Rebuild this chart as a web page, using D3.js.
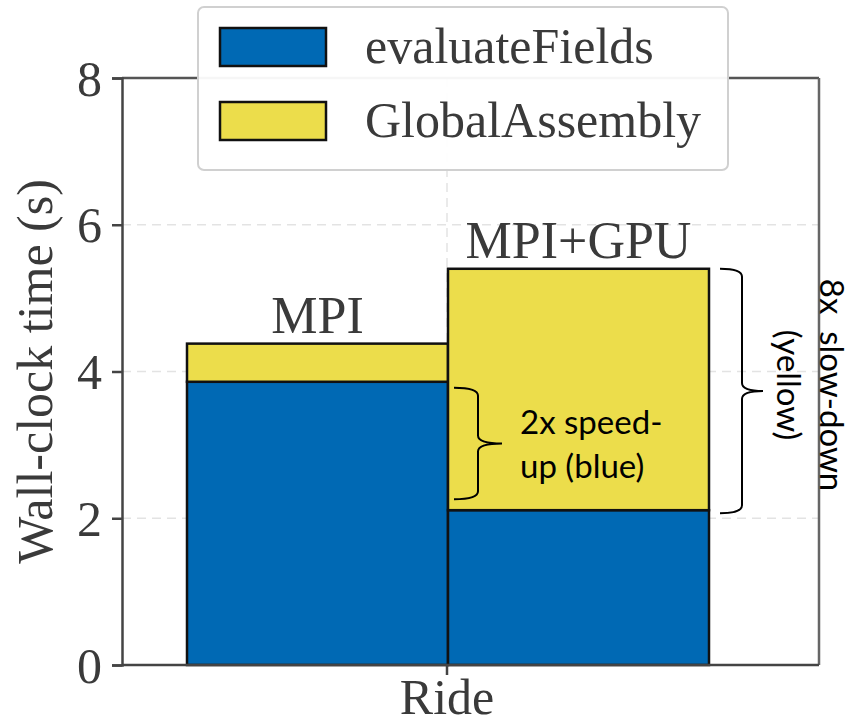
<!DOCTYPE html>
<html lang="en">
<head>
    <meta charset="UTF-8" />
    <title>Ride wall-clock time</title>
    <script src="https://d3js.org/d3.v7.min.js"></script>
    <style>
        body { margin: 0; background: #fff; }
        .serif { font-family: "Liberation Serif", serif; }
        .sans { font-family: Lato, "Open Sans", sans-serif; }
    </style>
</head>
<body>
    <script>
        var w = 854;
        var h = 725;

        // data
        var configs = ["MPI", "MPI+GPU"];
        var evaluateFields = [3.86, 2.11];
        var globalAssembly = [0.52, 3.29];
        var seriesNames = ["evaluateFields", "GlobalAssembly"];
        var seriesColors = ["#0069b4", "#ecdd4b"];
        var yTicks = [0, 2, 4, 6, 8];
        var groupLabel = "Ride";

        var frame = { left: 122, right: 819, top: 78, bottom: 665 };
        var textColor = "#3a3a3a";

        var svg = d3.select("body")
            .append("svg")
            .attr("width", w)
            .attr("height", h);

        var yScale = d3.scaleLinear()
            .domain([0, 8])
            .range([frame.bottom, frame.top]);

        var xScale = d3.scaleBand()
            .domain(configs)
            .range([187, 709])
            .padding(0);

        var groupX = 447;

        // grid lines
        svg.append("g")
            .selectAll("line")
            .data(yTicks.filter(function(d) { return d > 0 && d < 8; }))
            .enter()
            .append("line")
            .attr("x1", frame.left)
            .attr("x2", frame.right)
            .attr("y1", function(d) { return yScale(d); })
            .attr("y2", function(d) { return yScale(d); })
            .attr("stroke", "#e3e3e3")
            .attr("stroke-width", 1.5)
            .attr("stroke-dasharray", "9,6");

        svg.append("line")
            .attr("x1", groupX).attr("x2", groupX)
            .attr("y1", frame.top).attr("y2", frame.bottom)
            .attr("stroke", "#e3e3e3")
            .attr("stroke-width", 1.5)
            .attr("stroke-dasharray", "9,6");

        // stacked bars
        var stackData = configs.map(function(c, i) {
            return { config: c, evaluateFields: evaluateFields[i], GlobalAssembly: globalAssembly[i] };
        });
        var stack = d3.stack().keys(seriesNames)(stackData);

        svg.append("g")
            .selectAll("g")
            .data(stack)
            .enter()
            .append("g")
            .attr("fill", function(d, i) { return seriesColors[i]; })
            .selectAll("rect")
            .data(function(d) { return d; })
            .enter()
            .append("rect")
            .attr("x", function(d) { return xScale(d.data.config); })
            .attr("y", function(d) { return yScale(d[1]); })
            .attr("width", xScale.bandwidth())
            .attr("height", function(d) { return yScale(d[0]) - yScale(d[1]); })
            .attr("stroke", "#111")
            .attr("stroke-width", 2.5);

        // bar labels
        svg.append("g")
            .selectAll("text")
            .data(stackData)
            .enter()
            .append("text")
            .attr("class", "serif")
            .attr("x", function(d) { return xScale(d.config) + xScale.bandwidth() / 2; })
            .attr("y", function(d) { return yScale(d.evaluateFields + d.GlobalAssembly) - 11; })
            .attr("text-anchor", "middle")
            .attr("font-size", 52)
            .attr("fill", textColor)
            .text(function(d) { return d.config; });

        // frame
        svg.append("line")
            .attr("x1", frame.left).attr("x2", frame.right)
            .attr("y1", frame.top).attr("y2", frame.top)
            .attr("stroke", "#555").attr("stroke-width", 2.5);
        svg.append("line")
            .attr("x1", frame.right).attr("x2", frame.right)
            .attr("y1", frame.top).attr("y2", frame.bottom)
            .attr("stroke", "#666").attr("stroke-width", 2.5);

        // y axis
        var yAxis = d3.axisLeft(yScale)
            .tickValues(yTicks)
            .tickSize(10)
            .tickPadding(10)
            .tickFormat(d3.format("d"));

        var gy = svg.append("g")
            .attr("transform", "translate(" + frame.left + ",0)")
            .call(yAxis);
        gy.select(".domain").attr("stroke", "#444").attr("stroke-width", 2.5);
        gy.selectAll(".tick line").attr("stroke", "#444").attr("stroke-width", 2.5);
        gy.selectAll(".tick text")
            .attr("font-size", 50)
            .attr("font-family", "Liberation Serif, serif")
            .attr("fill", textColor)
            .attr("dy", "0.34em");

        // x axis
        svg.append("line")
            .attr("x1", frame.left).attr("x2", frame.right)
            .attr("y1", frame.bottom).attr("y2", frame.bottom)
            .attr("stroke", "#444").attr("stroke-width", 2.5);
        svg.append("line")
            .attr("x1", groupX).attr("x2", groupX)
            .attr("y1", frame.bottom).attr("y2", frame.bottom + 10)
            .attr("stroke", "#444").attr("stroke-width", 2.5);
        svg.append("text")
            .attr("class", "serif")
            .attr("x", groupX)
            .attr("y", 714)
            .attr("text-anchor", "middle")
            .attr("font-size", 50)
            .attr("fill", textColor)
            .text(groupLabel);

        // y label
        svg.append("text")
            .attr("class", "serif")
            .attr("transform", "translate(52," + yScale(4) + ") rotate(-90)")
            .attr("text-anchor", "middle")
            .attr("font-size", 50)
            .attr("fill", textColor)
            .text("Wall-clock time (s)");

        // legend
        var legend = svg.append("g");
        legend.append("rect")
            .attr("x", 198).attr("y", 7)
            .attr("width", 530).attr("height", 163)
            .attr("rx", 6)
            .attr("fill", "#fff")
            .attr("fill-opacity", 0.95)
            .attr("stroke", "#d0d0d0")
            .attr("stroke-width", 2);

        var items = legend.selectAll("g.item")
            .data(seriesNames)
            .enter()
            .append("g")
            .attr("class", "item")
            .attr("transform", function(d, i) { return "translate(0," + (i * 74) + ")"; });
        items.append("rect")
            .attr("x", 220).attr("y", 28)
            .attr("width", 106).attr("height", 38)
            .attr("fill", function(d, i) { return seriesColors[i]; })
            .attr("stroke", "#111")
            .attr("stroke-width", 2.5);
        items.append("text")
            .attr("class", "serif")
            .attr("x", 365).attr("y", 63)
            .attr("font-size", 50)
            .attr("fill", textColor)
            .text(function(d) { return d; });

        // braces
        function brace(x, y0, y1, arm, tip) {
            var m = (y0 + y1) / 2;
            var r = 8;
            var p = d3.path();
            p.moveTo(x, y0);
            p.quadraticCurveTo(x + arm, y0, x + arm, y0 + r);
            p.lineTo(x + arm, m - r);
            p.quadraticCurveTo(x + arm, m, x + arm + tip, m);
            p.quadraticCurveTo(x + arm, m, x + arm, m + r);
            p.lineTo(x + arm, y1 - r);
            p.quadraticCurveTo(x + arm, y1, x, y1);
            return p.toString();
        }

        var gpuRight = xScale("MPI+GPU") + xScale.bandwidth();

        svg.append("path")
            .attr("d", brace(xScale("MPI+GPU") + 6, yScale(evaluateFields[0]) + 6, yScale(2.26), 24, 24))
            .attr("fill", "none")
            .attr("stroke", "#000")
            .attr("stroke-width", 2);

        svg.append("path")
            .attr("d", brace(gpuRight + 11, yScale(evaluateFields[1] + globalAssembly[1]), yScale(evaluateFields[1]) + 3, 22, 21))
            .attr("fill", "none")
            .attr("stroke", "#000")
            .attr("stroke-width", 2);

        // annotation text
        var note = svg.append("text")
            .attr("class", "sans")
            .attr("font-size", 33)
            .attr("fill", "#000");
        note.append("tspan").attr("x", 520).attr("y", 434).text("2x speed-");
        note.append("tspan").attr("x", 520).attr("y", 478).text("up (blue)");

        var side = svg.append("text")
            .attr("class", "sans")
            .attr("transform", "translate(0,385) rotate(90)")
            .attr("text-anchor", "middle")
            .attr("font-size", 33)
            .attr("fill", "#000");
        side.append("tspan").attr("x", 0).attr("y", -820).text("8x\u00a0 slow-down");
        side.append("tspan").attr("x", 0).attr("y", -777).text("(yellow)");
    </script>
</body>
</html>
